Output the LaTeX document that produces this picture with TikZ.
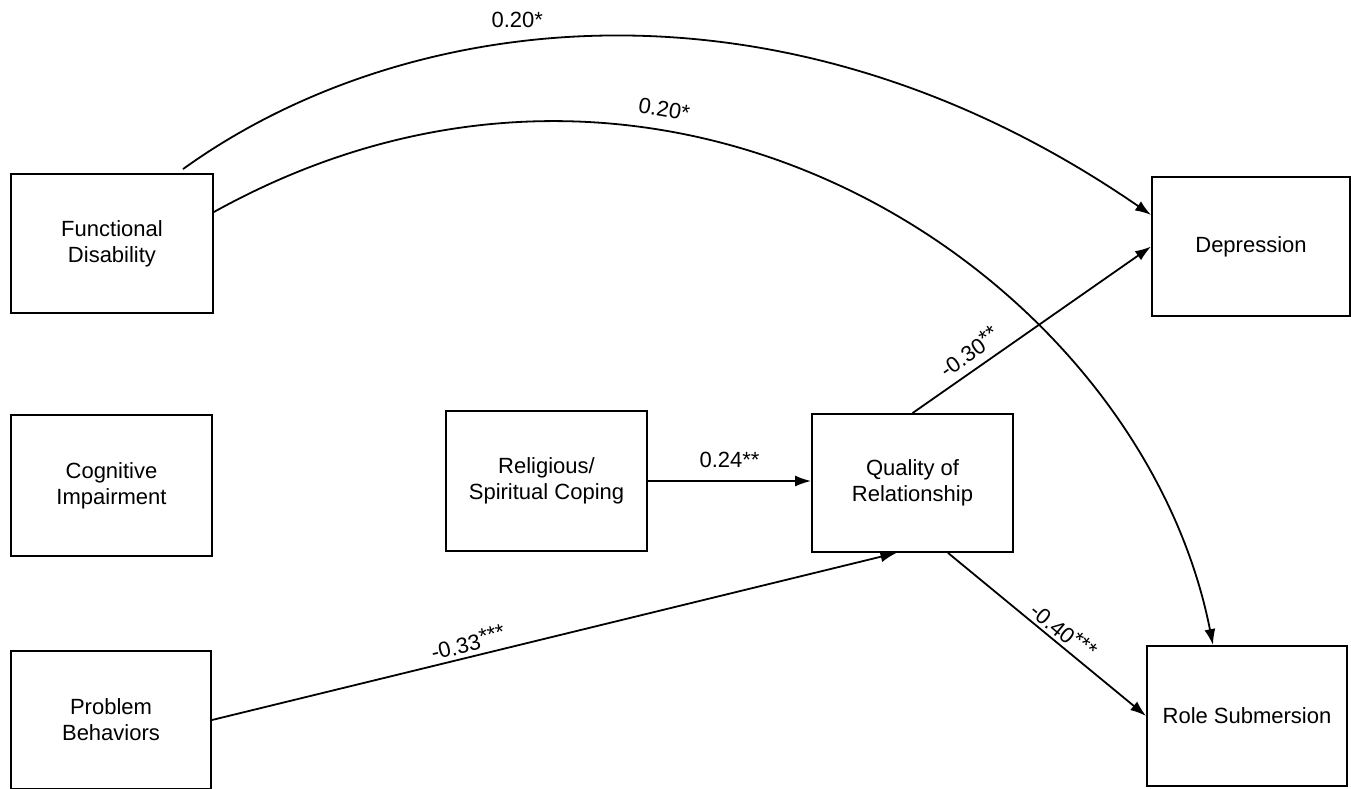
\documentclass[tikz,border=0pt]{standalone}
\usepackage{fontspec}
\setmainfont{Liberation Sans}
\usetikzlibrary{arrows.meta}
\begin{document}
\begin{tikzpicture}[x=1pt,y=-1pt,
  box/.style={draw, line width=1.8pt, align=center, inner sep=0pt,
    font=\fontsize{22}{26}\selectfont},
  conn/.style={line width=1.8pt, -{Latex[length=16pt,width=11pt]}},
  lab/.style={inner sep=0pt, font=\fontsize{22}{26}\selectfont}]
\useasboundingbox (0,0) rectangle (1351,788);
% boxes
\node[box, minimum width=202pt, minimum height=139pt] (fd) at (112,243.5) {Functional\\Disability};
\node[box, minimum width=201pt, minimum height=141pt] (ci) at (111.5,485.5) {Cognitive\\Impairment};
\node[box, minimum width=200pt, minimum height=138pt] (pb) at (111,720) {Problem\\Behaviors};
\node[box, minimum width=201pt, minimum height=140pt] (rel) at (546.5,481) {Religious/\\Spiritual Coping};
\node[box, minimum width=201pt, minimum height=138pt] (q) at (912.5,483) {Quality of\\Relationship};
\node[box, minimum width=198pt, minimum height=139pt] (dep) at (1251,246.5) {Depression};
\node[box, minimum width=200pt, minimum height=140pt] (rs) at (1247,716) {Role Submersion};
% curved paths
\draw[conn] ([xshift=71pt,yshift=4pt]fd.north) .. controls (402,11) and (779,-41.5) .. ([yshift=31.5pt]dep.west)
  node[lab, pos=0.4, above=14pt, xshift=6pt] {0.20*};
\draw[conn] ([yshift=31.5pt]fd.east) .. controls (668,-40) and (1140,275) .. ([xshift=-34pt]rs.north)
  node[lab, pos=0.335, sloped, above=13pt] {0.20*};
% straight paths
\draw[conn] (rel.east) -- (rel.east -| q.west)
  node[lab, midway, above=12pt] {0.24**};
\draw[conn] (q.north) -- (dep.west)
  node[lab, pos=0.28, sloped, above=8pt] {-0.30\raisebox{4pt}{**}};
\draw[conn] (pb.east) -- ([xshift=-16pt]q.south)
  node[lab, pos=0.379, sloped, above=4pt] {-0.33\raisebox{4pt}{***}};
\draw[conn] ([xshift=35.5pt]q.south) -- (rs.west)
  node[lab, pos=0.54, sloped, above=3pt] {-0.40\raisebox{4pt}{***}};
\end{tikzpicture}
\end{document}
